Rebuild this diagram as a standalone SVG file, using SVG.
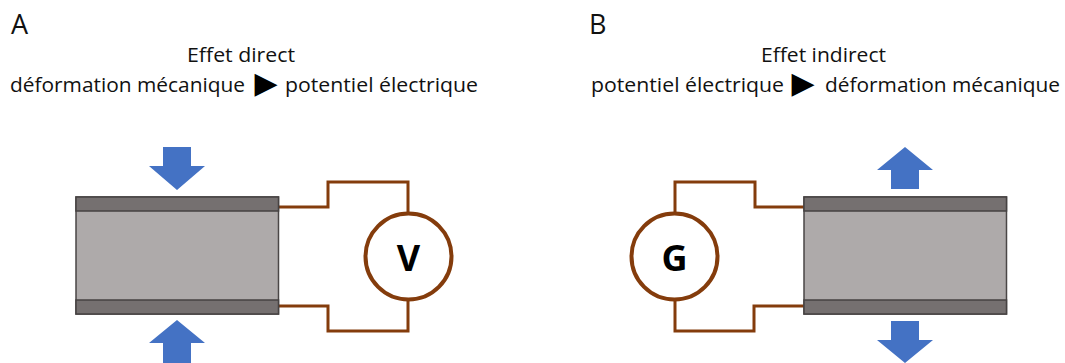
<svg xmlns="http://www.w3.org/2000/svg" width="1065" height="363" viewBox="0 0 1065 363">
<style>
text{font-family:"Open Sans","Noto Sans","Liberation Sans",sans-serif;fill:#111}
.t{font-size:20.500px}
.h{font-size:27px}
.l{font-size:36px;font-weight:700;text-anchor:middle;fill:#000}
.g{font-family:"DejaVu Sans",sans-serif;font-size:30px;fill:#000}
.body{fill:#aeaaaa;stroke:#4a4646;stroke-width:1.5}
.plate{fill:#757070;stroke:#464242;stroke-width:1.5}
.arrow{fill:#4472c4}
.wire{fill:none;stroke:#843c0c;stroke-width:3}
.meter{fill:#fff;stroke:#843c0c;stroke-width:4}
</style>
<g id="labels">
<text class="h" x="11" y="34">A</text>
<text class="h" x="589" y="34">B</text>
<text class="t" x="187" y="62" textLength="108" lengthAdjust="spacingAndGlyphs">Effet direct</text>
<text class="t" x="10" y="92" textLength="235" lengthAdjust="spacingAndGlyphs">déformation mécanique</text>
<text class="g" x="254.500" y="93">▶</text>
<text class="t" x="285" y="92" textLength="193" lengthAdjust="spacingAndGlyphs">potentiel électrique</text>
<text class="t" x="761" y="62" textLength="125" lengthAdjust="spacingAndGlyphs">Effet indirect</text>
<text class="t" x="591" y="92" textLength="193" lengthAdjust="spacingAndGlyphs">potentiel électrique</text>
<text class="g" x="791.500" y="93">▶</text>
<text class="t" x="825" y="92" textLength="235" lengthAdjust="spacingAndGlyphs">déformation mécanique</text>
</g>
<g id="connectors">
<path class="wire" d="M279 207H328V182H408V212"/>
<path class="wire" d="M279 306H328V331H408V301"/>
<path class="wire" d="M675 212V182H755V207H804"/>
<path class="wire" d="M675 301V331H754V306H804"/>
</g>
<g id="element-a">
<rect class="body" x="76" y="197" width="202.500" height="117"/>
<rect class="plate" x="76" y="197" width="202.500" height="14"/>
<rect class="plate" x="76" y="300" width="202.500" height="14"/>
</g>
<g id="element-b">
<rect class="body" x="804" y="197" width="202.500" height="117"/>
<rect class="plate" x="804" y="197" width="202.500" height="14"/>
<rect class="plate" x="804" y="300" width="202.500" height="14"/>
</g>
<g id="arrows-a">
<path class="arrow" d="M163 147H191V166H205L177 190L149 166H163Z"/>
<path class="arrow" d="M163 363V343H149L177 320L205 343H191V363Z"/>
</g>
<g id="arrows-b">
<path class="arrow" d="M905 147L933 170H919V189H891V170H877Z"/>
<path class="arrow" d="M891 321H919V340H933L905 363L877 340H891Z"/>
</g>
<g id="voltmeter">
<circle class="meter" cx="408.500" cy="256.500" r="43"/>
<text class="l" x="408.500" y="271">V</text>
</g>
<g id="generator">
<circle class="meter" cx="674.500" cy="256.500" r="43"/>
<text class="l" x="674.500" y="271">G</text>
</g>
</svg>
